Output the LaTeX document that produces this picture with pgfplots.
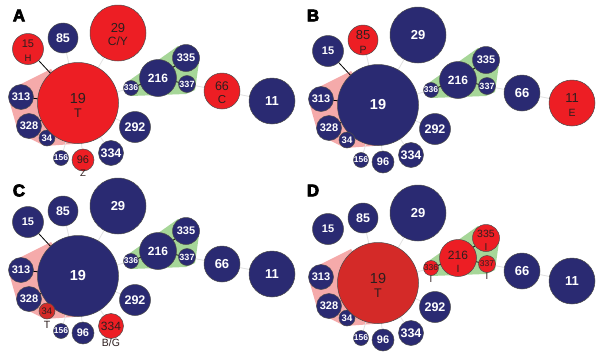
\documentclass[border=0pt]{standalone}
\usepackage{pgfplots}
\pgfplotsset{compat=1.18}
\usepackage{pgfplotstable}
\usepackage{fontspec}
\setmainfont{Liberation Sans}
\newfontfamily\heavy{Liberation Sans}[BoldFeatures={FakeBold=4}]
\definecolor{navy}{RGB}{42,42,114}
\definecolor{bred}{RGB}{237,30,36}
\definecolor{dred}{RGB}{212,42,40}
\definecolor{pinkh}{RGB}{245,170,170}
\definecolor{greenh}{RGB}{166,214,152}
\definecolor{edgeg}{RGB}{225,225,225}
\definecolor{ink}{RGB}{45,30,30}

\pgfplotstableread{
id x y r fs cA cB cC cD
19 78 103 40.5 14.5 1 0 0 2
29 118 33 28 13 1 0 0 0
15 28 49 15.5 11 1 0 0 0
85 63 38 15 12.5 0 1 0 0
313 21 97 12.5 11 0 0 0 0
328 29 126 12.5 11 0 0 0 0
34 47 138 8 9.5 0 0 2 0
156 61 158 7.5 8.5 0 0 0 0
96 83 160 11 11 1 0 0 0
334 111 153 12.5 12.5 0 0 1 0
292 135 127 15.5 12.5 0 0 0 0
336 131 88 7.5 8.5 0 0 0 1
216 158 78 18.5 12 0 0 0 1
335 186 58 13.5 11 0 0 0 1
337 187 84 8.5 9 0 0 0 1
66 222 91 18 13 1 0 0 0
11 272 101 23 13 0 1 0 0
}\nodetab

\pgfplotstableread{
x y
78 103
118 33
nan nan
78 103
63 38
nan nan
78 103
135 127
nan nan
78 103
111 153
nan nan
78 103
83 160
nan nan
78 103
61 158
nan nan
78 103
131 88
nan nan
187 84
222 91
nan nan
222 91
272 101
}\greyedges

\pgfplotstableread{
x y
78 103
28 49
nan nan
78 103
21 97
nan nan
78 103
29 126
nan nan
78 103
47 138
nan nan
131 88
158 78
nan nan
158 78
186 58
nan nan
158 78
187 84
}\blackedges

\pgfplotstableread{
x y
78 103
47 138
nan nan
131 88
158 78
nan nan
158 78
186 58
nan nan
158 78
187 84
}\blackedgesD

\pgfplotstableread{
x y
51 69
15 87
9 100
17 128
25 136
45 146
80 143.5
78 103
51 69
}\pinkhull

\pgfplotstableread{
x y
124 86
130 80
178 46
196 52
199 62
195 90
186 94
131 96
124 86
}\greenhull

\pgfplotstableread{
x y lbl fs
78 98.5 19 14.5
78 113 T 12.5
118 28 29 13
118 41 C/Y 12
28 43.5 15 11
28 58 H 9.5
83 160 96 11
83 173 Z 9.5
222 86 66 12.5
222 100 C 11.5
}\labA

\pgfplotstableread{
x y lbl fs
63 33 85 13
63 48 P 10.5
272 96 11 13
272 111 E 10.5
}\labB

\pgfplotstableread{
x y lbl fs
47 138 34 9.5
47 152 T 10.5
111 153 334 12
111 170 B/G 10.5
}\labC

\pgfplotstableread{
x y lbl fs
78 98.5 19 14.5
78 113 T 12.5
158 75 216 12
158 89 I 10.5
186 54 335 10.5
186 67 I 10
131 88 336 8.5
131 99 I 9.5
187 83.5 337 8.5
187 96 I 9.5
}\labD

\pgfplotsset{
  panel/.style={hide axis, scale only axis, width=300pt, height=180pt,
    xmin=0, xmax=300, ymin=0, ymax=180, y dir=reverse, clip=false,
    anchor=north west},
}

\newcommand\drawpolys[1]{%
  \addplot[fill=pinkh, draw=none] table[x=x,y=y] {\pinkhull};
  \addplot[fill=greenh, draw=none] table[x=x,y=y] {\greenhull};
  \addplot[edgeg, line width=0.8pt, unbounded coords=jump] table[x=x,y=y] {\greyedges};
  \addplot[black, line width=0.8pt, unbounded coords=jump] table[x=x,y=y] {#1};
}
\newcommand\drawcircs[1]{%
  \addplot[scatter, only marks, mark=*, line width=0.5pt,
    scatter/use mapped color={draw=black!70, fill=navy},
    visualization depends on={\thisrow{r}\as\myRad},
    scatter/@pre marker code/.append style={/tikz/mark size=\myRad},
    restrict expr to domain={\thisrow{#1}}{-0.5:0.5}] table[x=x,y=y] {\nodetab};
  \addplot[scatter, only marks, mark=*, line width=0.5pt,
    scatter/use mapped color={draw=black!70, fill=bred},
    visualization depends on={\thisrow{r}\as\myRad},
    scatter/@pre marker code/.append style={/tikz/mark size=\myRad},
    restrict expr to domain={\thisrow{#1}}{0.5:1.5}] table[x=x,y=y] {\nodetab};
  \addplot[scatter, only marks, mark=*, line width=0.5pt,
    scatter/use mapped color={draw=black!70, fill=dred},
    visualization depends on={\thisrow{r}\as\myRad},
    scatter/@pre marker code/.append style={/tikz/mark size=\myRad},
    restrict expr to domain={\thisrow{#1}}{1.5:2.5}] table[x=x,y=y] {\nodetab};
}
\newcommand\drawlabels[2]{%
  \addplot[only marks, mark=none, point meta=explicit symbolic,
    restrict expr to domain={\thisrow{#1}}{-0.5:0.5},
    visualization depends on={\thisrow{fs}\as\myFs},
    nodes near coords,
    every node near coord/.append style={anchor=center, inner sep=0pt, text=white,
      font=\bfseries\fontsize{\myFs}{\myFs}\selectfont}] table[x=x,y=y,meta=id] {\nodetab};
  \addplot[only marks, mark=none, point meta=explicit symbolic,
    visualization depends on={\thisrow{fs}\as\myFs},
    nodes near coords,
    every node near coord/.append style={anchor=center, inner sep=0pt, text=ink,
      font=\fontsize{\myFs}{\myFs}\selectfont}] table[x=x,y=y,meta=lbl] {#2};
}

\begin{document}
\begin{tikzpicture}
\fill[white] (0,0) rectangle (600pt,-361pt);
\begin{axis}[panel, at={(0pt,0pt)}]
\drawpolys{\blackedges}
\end{axis}
\begin{axis}[panel, at={(0pt,0pt)}]
\drawcircs{cA}
\end{axis}
\begin{axis}[panel, at={(0pt,0pt)}]
\drawlabels{cA}{\labA}
\end{axis}
\begin{axis}[panel, at={(300pt,-2pt)}]
\drawpolys{\blackedges}
\end{axis}
\begin{axis}[panel, at={(300pt,-2pt)}]
\drawcircs{cB}
\end{axis}
\begin{axis}[panel, at={(300pt,-2pt)}]
\drawlabels{cB}{\labB}
\end{axis}
\begin{axis}[panel, at={(0pt,-173pt)}]
\drawpolys{\blackedges}
\end{axis}
\begin{axis}[panel, at={(0pt,-173pt)}]
\drawcircs{cC}
\end{axis}
\begin{axis}[panel, at={(0pt,-173pt)}]
\drawlabels{cC}{\labC}
\end{axis}
\begin{axis}[panel, at={(300pt,-180pt)}]
\drawpolys{\blackedgesD}
\end{axis}
\begin{axis}[panel, at={(300pt,-180pt)}]
\drawcircs{cD}
\end{axis}
\begin{axis}[panel, at={(300pt,-180pt)}]
\drawlabels{cD}{\labD}
\end{axis}
\node[font=\heavy\bfseries\fontsize{17}{17}\selectfont] at (19pt,-15.5pt) {A};
\node[font=\heavy\bfseries\fontsize{17}{17}\selectfont] at (313pt,-15.5pt) {B};
\node[font=\heavy\bfseries\fontsize{17}{17}\selectfont] at (19pt,-190.5pt) {C};
\node[font=\heavy\bfseries\fontsize{17}{17}\selectfont] at (313pt,-190.5pt) {D};
\end{tikzpicture}
\end{document}
